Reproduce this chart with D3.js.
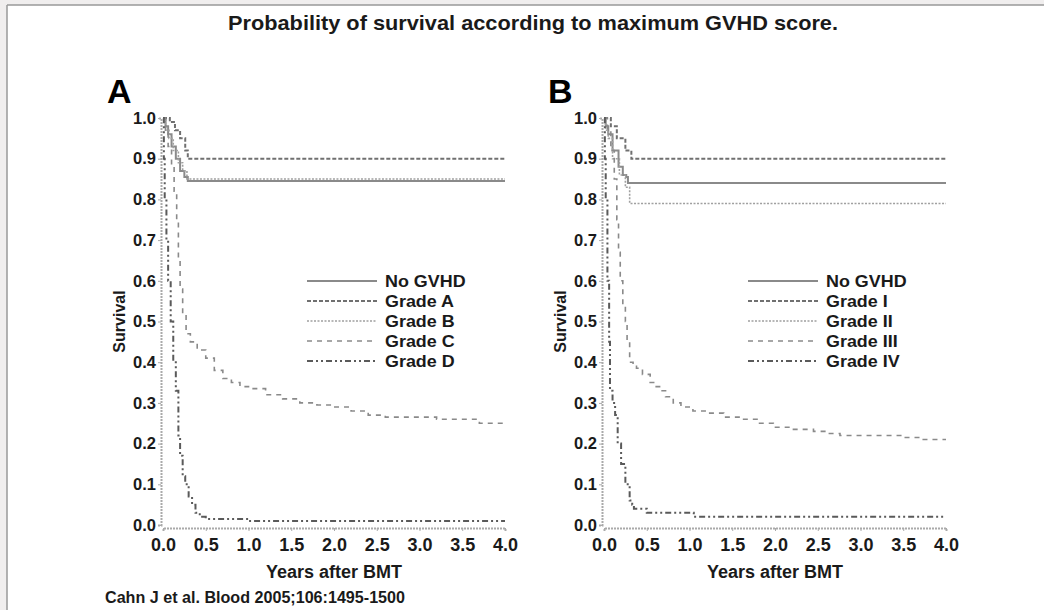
<!DOCTYPE html>
<html>
<head>
<meta charset="utf-8">
<script src="https://cdn.jsdelivr.net/npm/d3@7"></script>
<style>
  body { margin: 0; background: #f0eeee; }
  svg { display: block; font-family: "Liberation Sans", Arial, sans-serif; }
</style>
</head>
<body>
<svg id="chart" width="1044" height="610"></svg>
<script>
// ---- data ----
const xTicks = [0, 0.5, 1, 1.5, 2, 2.5, 3, 3.5, 4];
const yTicks = [0, 0.1, 0.2, 0.3, 0.4, 0.5, 0.6, 0.7, 0.8, 0.9, 1.0];

const seriesStyles = ["solid", "dashA", "dotB", "dashC", "dashDot"];
const legendA = ["No GVHD", "Grade A", "Grade B", "Grade C", "Grade D"];
const legendB = ["No GVHD", "Grade I", "Grade II", "Grade III", "Grade IV"];

// panel A curves: [years, survival]
const aNoGvhd = [[0,1],[0.03,0.98],[0.06,0.96],[0.1,0.93],[0.15,0.9],[0.2,0.87],[0.25,0.855],[0.29,0.845],[4,0.845]];
const aGradeA = [[0,1],[0.05,1],[0.08,0.99],[0.14,0.97],[0.2,0.95],[0.26,0.92],[0.29,0.9],[4,0.9]];
const aGradeB = [[0,1],[0.03,0.97],[0.07,0.95],[0.12,0.92],[0.18,0.89],[0.23,0.87],[0.28,0.85],[4,0.85]];
const aGradeC = [[0,1],[0.03,0.97],[0.06,0.93],[0.1,0.88],[0.13,0.82],[0.16,0.75],[0.18,0.65],[0.2,0.58],[0.23,0.52],[0.27,0.47],[0.32,0.45],[0.4,0.43],[0.5,0.41],[0.6,0.38],[0.7,0.36],[0.8,0.35],[0.9,0.34],[1.0,0.335],[1.2,0.32],[1.4,0.31],[1.6,0.3],[1.8,0.295],[2.0,0.29],[2.2,0.28],[2.4,0.27],[2.6,0.265],[3.0,0.265],[3.2,0.26],[3.5,0.26],[3.7,0.25],[4,0.25]];
const aGradeD = [[0,1],[0.01,0.9],[0.02,0.8],[0.04,0.7],[0.06,0.6],[0.09,0.5],[0.12,0.4],[0.15,0.33],[0.18,0.22],[0.2,0.17],[0.23,0.12],[0.26,0.1],[0.3,0.07],[0.34,0.05],[0.38,0.03],[0.43,0.02],[0.5,0.015],[0.98,0.015],[1.0,0.01],[4,0.01]];

// panel B curves
const bNoGvhd = [[0,1],[0.02,0.98],[0.05,0.96],[0.1,0.92],[0.17,0.88],[0.22,0.86],[0.26,0.855],[0.28,0.84],[4,0.84]];
const bGradeI = [[0,1],[0.05,1],[0.08,0.98],[0.15,0.95],[0.25,0.92],[0.32,0.9],[4,0.9]];
const bGradeII = [[0,1],[0.02,0.97],[0.05,0.95],[0.1,0.9],[0.18,0.86],[0.25,0.83],[0.3,0.79],[4,0.79]];
const bGradeIII = [[0,1],[0.04,0.97],[0.08,0.92],[0.12,0.85],[0.15,0.75],[0.17,0.67],[0.19,0.6],[0.22,0.54],[0.25,0.5],[0.27,0.45],[0.3,0.4],[0.34,0.39],[0.38,0.385],[0.45,0.37],[0.54,0.35],[0.6,0.34],[0.65,0.33],[0.72,0.315],[0.81,0.3],[0.9,0.29],[1.04,0.28],[1.2,0.275],[1.4,0.265],[1.6,0.26],[1.8,0.25],[1.98,0.24],[2.2,0.235],[2.45,0.23],[2.6,0.225],[2.76,0.22],[3.3,0.22],[3.5,0.215],[3.7,0.21],[4,0.21]];
const bGradeIV = [[0,1],[0.01,0.9],[0.02,0.8],[0.04,0.6],[0.06,0.45],[0.07,0.33],[0.1,0.3],[0.13,0.27],[0.16,0.2],[0.2,0.15],[0.25,0.1],[0.3,0.06],[0.33,0.05],[0.35,0.04],[0.45,0.04],[0.5,0.03],[1.0,0.03],[1.05,0.02],[4,0.02]];

const panels = [
  { letter: "A", left: 163, right: 505, legend: legendA, legendX: 307,
    curves: [aNoGvhd, aGradeA, aGradeB, aGradeC, aGradeD] },
  { letter: "B", left: 604, right: 946, legend: legendB, legendX: 748,
    curves: [bNoGvhd, bGradeI, bGradeII, bGradeIII, bGradeIV] }
];

const styleMap = {
  solid:   { stroke: "#8a8a8a", width: 2,   dash: null },
  dashA:   { stroke: "#707070", width: 2,   dash: "4,2" },
  dotB:    { stroke: "#a0a0a0", width: 1.6, dash: "2,1.5" },
  dashC:   { stroke: "#8a8a8a", width: 1.6, dash: "5,5" },
  dashDot: { stroke: "#5a5a5a", width: 2,   dash: "6,3,2,3,2,3" }
};

const textColor = "#1a1a1a";

const svg = d3.select("#chart");

// white page with grey border top/left
svg.append("rect").attr("x", 7).attr("y", 5).attr("width", 1037).attr("height", 605).attr("fill", "#fff");
svg.append("line").attr("x1", 7).attr("y1", 5).attr("x2", 1044).attr("y2", 5).attr("stroke", "#999").attr("stroke-width", 1.5);
svg.append("line").attr("x1", 7).attr("y1", 5).attr("x2", 7).attr("y2", 610).attr("stroke", "#999").attr("stroke-width", 1.5);

svg.append("text")
  .attr("x", 533).attr("y", 30)
  .attr("text-anchor", "middle")
  .attr("font-family", "'Liberation Sans Narrow', 'Liberation Sans', Arial, sans-serif")
  .attr("font-size", 21).attr("font-weight", "bold").attr("fill", textColor)
  .attr("textLength", 610).attr("lengthAdjust", "spacingAndGlyphs")
  .text("Probability of survival according to maximum GVHD score.");

svg.append("text")
  .attr("x", 105).attr("y", 603)
  .attr("font-size", 16).attr("font-weight", "bold")
  .attr("fill", textColor)
  .attr("textLength", 300).attr("lengthAdjust", "spacingAndGlyphs")
  .text("Cahn J et al. Blood 2005;106:1495-1500");

const y = d3.scaleLinear().domain([0, 1]).range([525, 118]);

panels.forEach(p => {
  const x = d3.scaleLinear().domain([0, 4]).range([p.left, p.right]);
  const g = svg.append("g");

  g.append("text")
    .attr("x", p.left - 56).attr("y", 103)
    .attr("font-size", 34).attr("font-weight", "bold").attr("fill", "#000")
    .text(p.letter);

  // y axis
  const yAxis = g.append("g")
    .attr("transform", `translate(${p.left - 2},0)`)
    .call(d3.axisLeft(y).tickValues(yTicks).tickFormat(d3.format(".1f")).tickSize(3).tickPadding(2));
  yAxis.select(".domain").attr("stroke", "#aaa").attr("stroke-width", 2).attr("stroke-dasharray", "2,1");
  yAxis.selectAll(".tick line").attr("stroke", "#aaa");
  yAxis.selectAll(".tick text")
    .attr("font-size", 16.5).attr("font-weight", "bold").attr("fill", textColor)
    .attr("font-family", "Liberation Sans, Arial, sans-serif");

  // x axis
  const xAxis = g.append("g")
    .attr("transform", "translate(0,528)")
    .call(d3.axisBottom(x).tickValues(xTicks).tickFormat(d3.format(".1f")).tickSize(3));
  xAxis.select(".domain").attr("stroke", "#aaa").attr("stroke-width", 2).attr("stroke-dasharray", "2,1");
  xAxis.selectAll(".tick line").attr("stroke", "#aaa");
  xAxis.selectAll(".tick text")
    .attr("font-size", 18).attr("font-weight", "bold").attr("fill", textColor)
    .attr("y", 10)
    .attr("font-family", "Liberation Sans, Arial, sans-serif");

  g.append("text")
    .attr("x", (p.left + p.right) / 2).attr("y", 578)
    .attr("text-anchor", "middle")
    .attr("font-size", 18).attr("font-weight", "bold").attr("fill", textColor)
    .text("Years after BMT");

  g.append("text")
    .attr("transform", `translate(${p.left - 38},${y(0.5)}) rotate(-90)`)
    .attr("text-anchor", "middle")
    .attr("font-size", 16).attr("font-weight", "bold").attr("fill", textColor)
    .text("Survival");

  // curves (step functions, Kaplan-Meier style)
  const line = d3.line()
    .x(d => x(d[0]))
    .y(d => y(d[1]))
    .curve(d3.curveStepAfter);

  p.curves.forEach((c, i) => {
    const s = styleMap[seriesStyles[i]];
    g.append("path")
      .datum(c)
      .attr("d", line)
      .attr("fill", "none")
      .attr("stroke", s.stroke)
      .attr("stroke-width", s.width)
      .attr("stroke-dasharray", s.dash);
  });

  // legend
  p.legend.forEach((name, i) => {
    const s = styleMap[seriesStyles[i]];
    const ly = 281 + i * 20;
    g.append("line")
      .attr("x1", p.legendX).attr("x2", p.legendX + 70)
      .attr("y1", ly).attr("y2", ly)
      .attr("stroke", s.stroke).attr("stroke-width", s.width)
      .attr("stroke-dasharray", s.dash);
    g.append("text")
      .attr("transform", `translate(${p.legendX + 78},${ly + 6}) scale(1.12,1)`)
      .attr("font-size", 16).attr("font-weight", "bold").attr("fill", textColor)
      .text(name);
  });
});
</script>
</body>
</html>
